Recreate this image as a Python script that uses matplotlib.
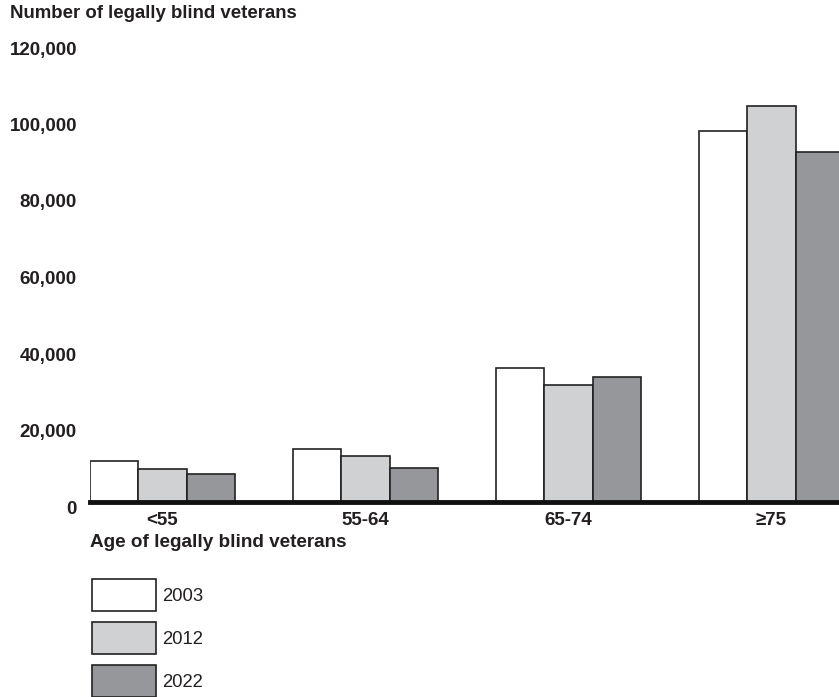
import matplotlib
matplotlib.use("Agg")
from matplotlib import pyplot as plt
import matplotlib.transforms as mtransforms
import numpy as np

plt.rcParams['font.family'] = ['Liberation Sans', 'DejaVu Sans']

age_groups = ["<55", "55-64", "65-74", "\u226575"]
years = ["2003", "2012", "2022"]
v2003 = [10700, 13900, 35000, 97000]
v2012 = [8600, 12000, 30600, 103500]
v2022 = [7300, 8900, 32700, 91500]
colors = ["#ffffff", "#d0d1d3", "#96979b"]

fig = plt.figure(figsize=(8.39, 6.97), dpi=100)
ax = fig.add_axes([90 / 839, 1 - 502 / 697, 1 - 90 / 839, (502 - 43) / 697])

x = np.arange(len(age_groups))
w = 0.239
for i, (vals, c, yr) in enumerate(zip([v2003, v2012, v2022], colors, years)):
    ax.bar(x + (i - 1) * w, vals, width=w, color=c, edgecolor="#222222",
           linewidth=1.2, label=yr)

ax.set_xlim(-0.357, 3.333)
ax.set_ylim(0, 120000)
ax.set_yticks(np.arange(0, 120001, 20000))
ax.set_yticklabels([f"{v:,}" for v in range(0, 120001, 20000)],
                   fontsize=13.5, fontweight="bold", color="#231f20")
ax.set_xticks(x)
ax.set_xticklabels(age_groups, fontsize=13.5, fontweight="bold", color="#231f20")
ax.tick_params(axis="y", length=0, pad=9.4)
ax.tick_params(axis="x", length=0, pad=7)
# y labels sit a little below their values in the original
shift = mtransforms.ScaledTranslation(0, -5 / 100, fig.dpi_scale_trans)
for lbl in ax.get_yticklabels():
    lbl.set_transform(lbl.get_transform() + shift)
for s in ["top", "right", "left"]:
    ax.spines[s].set_visible(False)
ax.spines["bottom"].set_linewidth(3.5)
ax.spines["bottom"].set_color("#111111")

ax.set_xlabel("Age of legally blind veterans", loc="left", fontsize=13.6,
              fontweight="bold", color="#231f20", labelpad=4)

fig.text(10 / 839, 1 - 14 / 697, "Number of legally blind veterans",
         fontsize=13.4, fontweight="bold", color="#231f20", va="center", ha="left")

leg = ax.legend(loc="upper left", bbox_to_anchor=(92 / 839, 1 - 579 / 697),
                bbox_transform=fig.transFigure, frameon=False, fontsize=13.3,
                handlelength=3.47, handleheight=2.26, labelspacing=0.62,
                handletextpad=0.35, borderpad=0, borderaxespad=0)
for t in leg.get_texts():
    t.set_color("#231f20")

fig.savefig("out.png", dpi=100)
